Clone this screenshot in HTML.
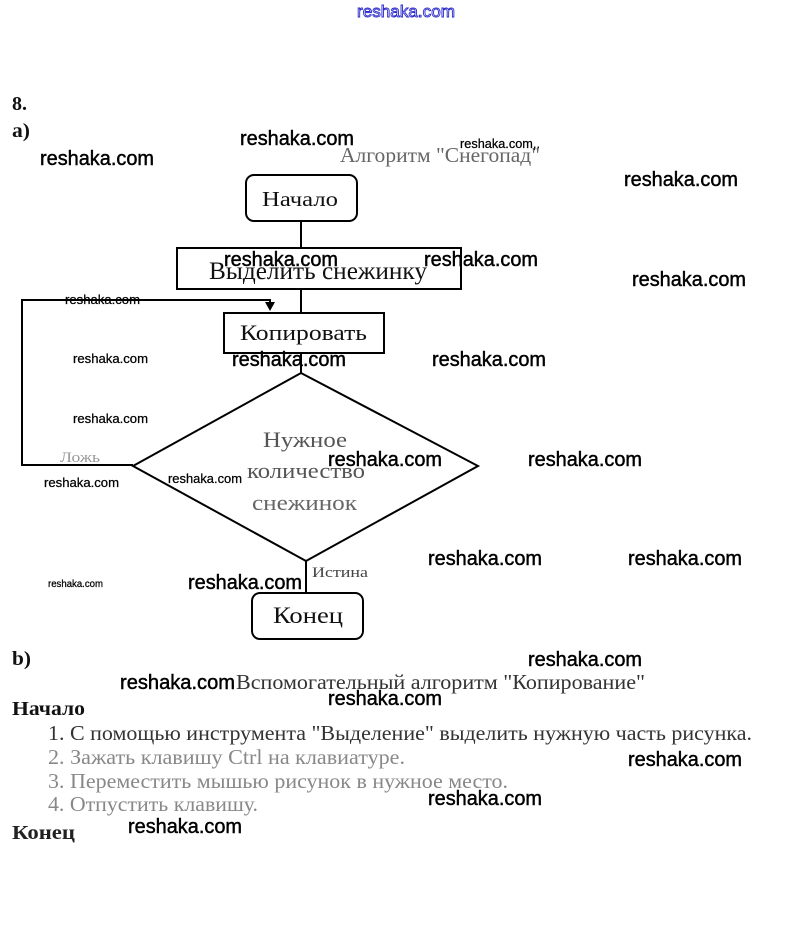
<!DOCTYPE html>
<html><head><meta charset="utf-8"><style>
html,body{margin:0;padding:0;background:#fff;}
svg{display:block;}
.s{font-family:"Liberation Serif","Noto Serif CJK SC",serif;}
.w{font-family:"Liberation Sans","DejaVu Sans",sans-serif;fill:#000;stroke:#000;stroke-width:0.45;}
</style></head><body>
<svg width="809" height="939" viewBox="0 0 809 939" xmlns="http://www.w3.org/2000/svg">
<rect width="809" height="939" fill="#fff"/>
<!-- top blue watermark -->
<text x="357" y="17" font-family="Liberation Sans, sans-serif" font-size="17" textLength="98" lengthAdjust="spacingAndGlyphs" style="fill:#fff;stroke:#2a2acc;stroke-width:0.9">reshaka.com</text>

<!-- headings -->
<text x="12" y="110" class="s" font-size="20" font-weight="bold" fill="#111">8.</text>
<text x="12" y="137" class="s" font-size="20" font-weight="bold" fill="#111" textLength="18" lengthAdjust="spacingAndGlyphs">a)</text>
<text x="340" y="162" class="s" font-size="21" fill="#666" textLength="200" lengthAdjust="spacingAndGlyphs">Алгоритм "Снегопад"</text>

<!-- flowchart -->
<g fill="none" stroke="#000" stroke-width="2">
<rect x="246" y="175" width="111" height="46" rx="8"/>
<line x1="301" y1="221" x2="301" y2="248"/>
<rect x="177" y="248" width="284" height="41"/>
<line x1="301" y1="289" x2="301" y2="313"/>
<rect x="224" y="313" width="160" height="40"/>
<line x1="301" y1="353" x2="301" y2="373"/>
<polygon points="301,373 478,466 306,561 133,466"/>
<line x1="306" y1="561" x2="306" y2="593"/>
<rect x="252" y="593" width="111" height="46" rx="8"/>
<polyline points="133,465 22,465 22,300 270,300 270,303"/>
</g>
<polygon points="265,302 275,302 270,311" fill="#000"/>

<text x="262" y="206" class="s" font-size="21" fill="#111" textLength="76" lengthAdjust="spacingAndGlyphs">Начало</text>
<text x="209" y="279" class="s" font-size="25" fill="#111" textLength="218" lengthAdjust="spacingAndGlyphs">Выделить снежинку</text>
<text x="240" y="340" class="s" font-size="22" fill="#111" textLength="127" lengthAdjust="spacingAndGlyphs">Копировать</text>
<text x="263" y="447" class="s" font-size="22" fill="#555" textLength="84" lengthAdjust="spacingAndGlyphs">Нужное</text>
<text x="247" y="478" class="s" font-size="22" fill="#555" textLength="118" lengthAdjust="spacingAndGlyphs">количество</text>
<text x="252" y="510" class="s" font-size="22" fill="#666" textLength="105" lengthAdjust="spacingAndGlyphs">снежинок</text>
<text x="60" y="462" class="s" font-size="15" fill="#999" textLength="40" lengthAdjust="spacingAndGlyphs">Ложь</text>
<text x="312" y="577" class="s" font-size="15" fill="#444" textLength="56" lengthAdjust="spacingAndGlyphs">Истина</text>
<text x="273" y="623" class="s" font-size="23" fill="#111" textLength="70" lengthAdjust="spacingAndGlyphs">Конец</text>

<!-- part b -->
<text x="12" y="665" class="s" font-size="20" font-weight="bold" fill="#111" textLength="19" lengthAdjust="spacingAndGlyphs">b)</text>
<text x="236" y="689" class="s" font-size="21" fill="#333" textLength="409" lengthAdjust="spacingAndGlyphs">Вспомогательный алгоритм "Копирование"</text>
<text x="12" y="715" class="s" font-size="20" font-weight="bold" fill="#111" textLength="73" lengthAdjust="spacingAndGlyphs">Начало</text>
<text x="48" y="740" class="s" font-size="21" fill="#333" textLength="704" lengthAdjust="spacingAndGlyphs">1. С помощью инструмента "Выделение" выделить нужную часть рисунка.</text>
<text x="48" y="764" class="s" font-size="21" fill="#888" textLength="357" lengthAdjust="spacingAndGlyphs">2. Зажать клавишу Ctrl на клавиатуре.</text>
<text x="48" y="788" class="s" font-size="21" fill="#888" textLength="460" lengthAdjust="spacingAndGlyphs">3. Переместить мышью рисунок в нужное место.</text>
<text x="48" y="811" class="s" font-size="21" fill="#888" textLength="210" lengthAdjust="spacingAndGlyphs">4. Отпустить клавишу.</text>
<text x="12" y="839" class="s" font-size="20" font-weight="bold" fill="#222" textLength="63" lengthAdjust="spacingAndGlyphs">Конец</text>

<!-- watermarks big -->
<g class="w" font-size="20">
<text x="240" y="145" textLength="114" lengthAdjust="spacingAndGlyphs">reshaka.com</text>
<text x="40" y="165" textLength="114" lengthAdjust="spacingAndGlyphs">reshaka.com</text>
<text x="624" y="186" textLength="114" lengthAdjust="spacingAndGlyphs">reshaka.com</text>
<text x="224" y="266" textLength="114" lengthAdjust="spacingAndGlyphs">reshaka.com</text>
<text x="424" y="266" textLength="114" lengthAdjust="spacingAndGlyphs">reshaka.com</text>
<text x="632" y="286" textLength="114" lengthAdjust="spacingAndGlyphs">reshaka.com</text>
<text x="232" y="366" textLength="114" lengthAdjust="spacingAndGlyphs">reshaka.com</text>
<text x="432" y="366" textLength="114" lengthAdjust="spacingAndGlyphs">reshaka.com</text>
<text x="328" y="466" textLength="114" lengthAdjust="spacingAndGlyphs">reshaka.com</text>
<text x="528" y="466" textLength="114" lengthAdjust="spacingAndGlyphs">reshaka.com</text>
<text x="428" y="565" textLength="114" lengthAdjust="spacingAndGlyphs">reshaka.com</text>
<text x="628" y="565" textLength="114" lengthAdjust="spacingAndGlyphs">reshaka.com</text>
<text x="188" y="589" textLength="114" lengthAdjust="spacingAndGlyphs">reshaka.com</text>
<text x="528" y="666" textLength="114" lengthAdjust="spacingAndGlyphs">reshaka.com</text>
<text x="120" y="689" textLength="115" lengthAdjust="spacingAndGlyphs">reshaka.com</text>
<text x="328" y="705" textLength="114" lengthAdjust="spacingAndGlyphs">reshaka.com</text>
<text x="628" y="766" textLength="114" lengthAdjust="spacingAndGlyphs">reshaka.com</text>
<text x="428" y="805" textLength="114" lengthAdjust="spacingAndGlyphs">reshaka.com</text>
<text x="128" y="833" textLength="114" lengthAdjust="spacingAndGlyphs">reshaka.com</text>
</g>
<!-- watermarks small -->
<g class="w" font-size="13" style="stroke-width:0.25">
<text x="460" y="148" textLength="80" lengthAdjust="spacingAndGlyphs">reshaka.com,.</text>
<text x="65" y="304" textLength="75" lengthAdjust="spacingAndGlyphs">reshaka.com</text>
<text x="73" y="363" textLength="75" lengthAdjust="spacingAndGlyphs">reshaka.com</text>
<text x="73" y="423" textLength="75" lengthAdjust="spacingAndGlyphs">reshaka.com</text>
<text x="44" y="487" textLength="75" lengthAdjust="spacingAndGlyphs">reshaka.com</text>
<text x="168" y="483" textLength="74" lengthAdjust="spacingAndGlyphs">reshaka.com</text>
<text x="48" y="587" font-size="10" textLength="55" lengthAdjust="spacingAndGlyphs">reshaka.com</text>
</g>
</svg>
</body></html>
